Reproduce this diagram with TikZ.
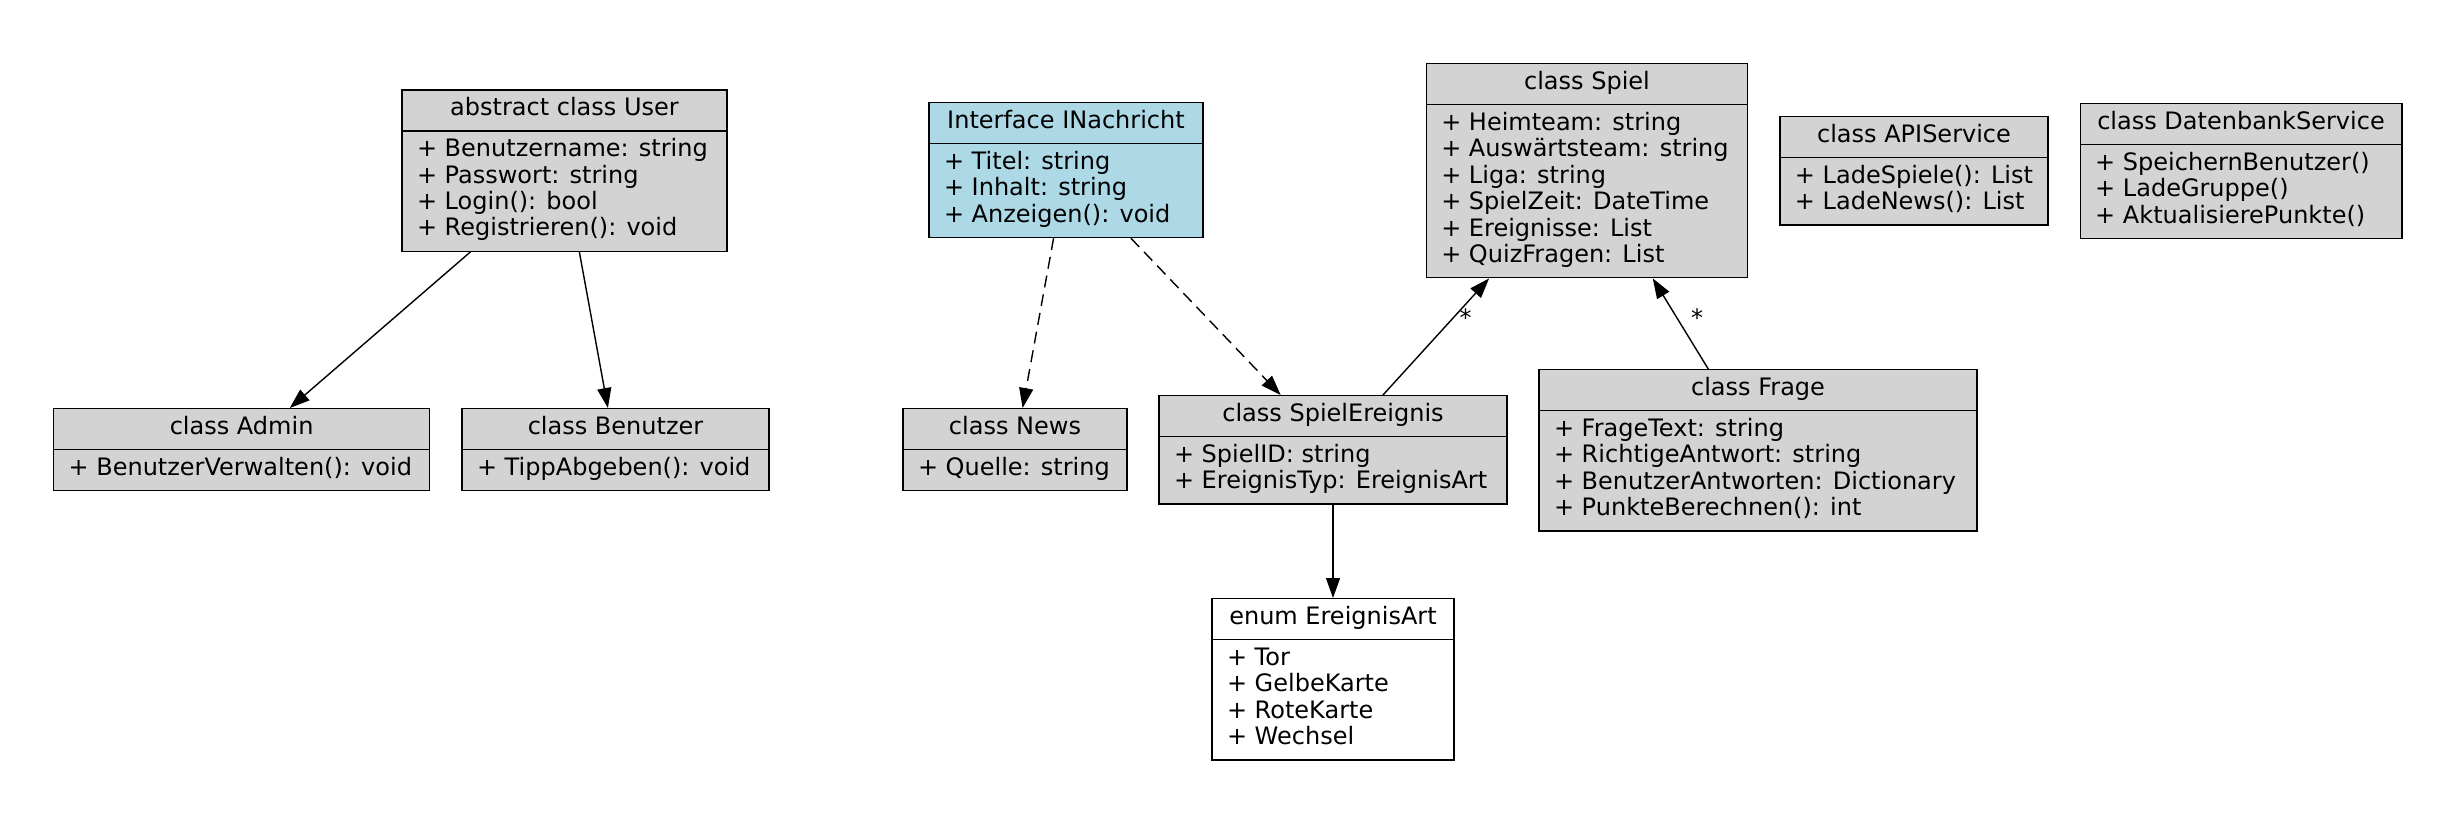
\documentclass[tikz,border=0pt]{standalone}
\usepackage{fontspec}
\setmainfont{DejaVu Sans}
\usepackage{xcolor}
\usetikzlibrary{shapes.multipart, arrows.meta}
\definecolor{umlgray}{HTML}{D3D3D3}
\definecolor{umlblue}{HTML}{ADD8E6}
\newcommand{\umlfont}{\fontsize{12}{13.2}\selectfont}

\begin{document}
\begin{tikzpicture}[
    x = 0.5pt, y = -0.5pt,
    > = {Triangle[length = 10pt, width = 7pt]},
    cls/.style = {rectangle split, rectangle split parts = 2, draw, line width = 0.7pt,
        rectangle split part align = {center, left}, align = left, font = \umlfont,
        inner xsep = 7.5pt, inner ysep = 3.3pt, anchor = north, fill = umlgray},
    iface/.style = {cls, fill = umlblue},
    enum/.style = {cls, fill = white},
    assoc/.style = {->, line width = 0.7pt},
    impl/.style = {assoc, dash pattern = on 6pt off 3.5pt},
    mult/.style = {font = \umlfont, inner sep = 0pt, anchor = west},
    ]
    \useasboundingbox (0,0) rectangle (2464,816);

    % user classes
    \node [cls, minimum width = 162.5pt] (user) at (564.5,89.3)
        {\strut abstract class User
         \nodepart{second}\strut + Benutzername: string\\ + Passwort: string\\ + Login(): bool\\ \strut + Registrieren(): void};
    \node [cls, minimum width = 188pt] (admin) at (241.6,408)
        {\strut class Admin \nodepart{second}\strut + BenutzerVerwalten(): void};
    \node [cls, minimum width = 153.5pt] (benutzer) at (615.5,408)
        {\strut class Benutzer \nodepart{second}\strut + TippAbgeben(): void};

    % news and game events
    \node [iface, minimum width = 137pt] (nachricht) at (1066,102)
        {\strut Interface INachricht
         \nodepart{second}\strut + Titel: string\\ + Inhalt: string\\ \strut + Anzeigen(): void};
    \node [cls, minimum width = 112pt] (news) at (1015,408)
        {\strut class News \nodepart{second}\strut + Quelle: string};
    \node [cls, minimum width = 174pt] (ereignis) at (1333,395)
        {\strut class SpielEreignis
         \nodepart{second}\strut + SpielID: string\\ \strut + EreignisTyp: EreignisArt};
    \node [enum, minimum width = 121pt] (art) at (1333,598)
        {\strut enum EreignisArt
         \nodepart{second}\strut + Tor\\ + GelbeKarte\\ + RoteKarte\\ \strut + Wechsel};

    % game, quiz and services
    \node [cls, minimum width = 160.75pt] (spiel) at (1587,63)
        {\strut class Spiel
         \nodepart{second}\strut + Heimteam: string\\ + Auswärtsteam: string\\ + Liga: string\\
         + SpielZeit: DateTime\\ + Ereignisse: List\\ \strut + QuizFragen: List};
    \node [cls, minimum width = 219pt] (frage) at (1758,369)
        {\strut class Frage
         \nodepart{second}\strut + FrageText: string\\ + RichtigeAntwort: string\\
         + BenutzerAntworten: Dictionary\\ \strut + PunkteBerechnen(): int};
    \node [cls, minimum width = 134pt] (api) at (1914,116)
        {\strut class APIService
         \nodepart{second}\strut + LadeSpiele(): List\\ \strut + LadeNews(): List};
    \node [cls, minimum width = 160.8pt] (db) at (2241,103)
        {\strut class DatenbankService
         \nodepart{second}\strut + SpeichernBenutzer()\\ + LadeGruppe()\\ \strut + AktualisierePunkte()};

    % connectors
    \draw [assoc] (user) -- (admin);
    \draw [assoc] (user) -- (benutzer);
    \draw [impl] (nachricht) -- (news);
    \draw [impl] (nachricht) -- (ereignis);
    \draw [assoc] (ereignis) -- node [mult, pos = 0.66, xshift = 3pt] {*} (spiel);
    \draw [assoc] (frage) -- node [mult, pos = 0.565, xshift = 6.7pt] {*} (spiel);
    \draw [assoc] (ereignis) -- (art);
\end{tikzpicture}
\end{document}
